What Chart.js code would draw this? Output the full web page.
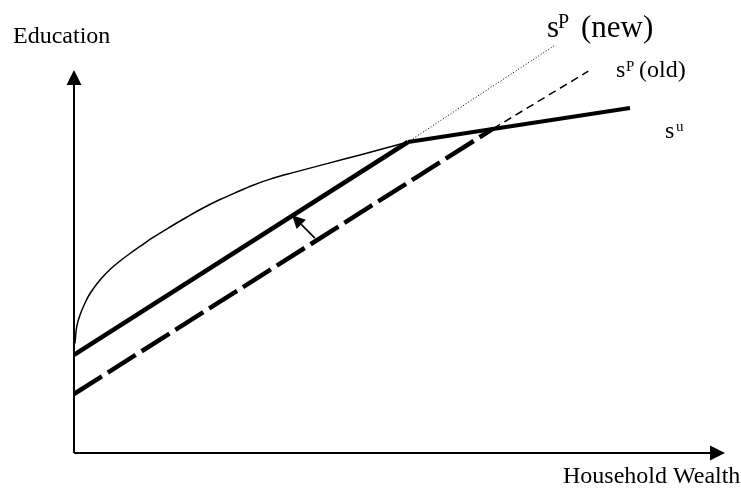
<!DOCTYPE html>
<html>
<head>
<meta charset="utf-8">
<script src="https://cdn.jsdelivr.net/npm/chart.js@4.4.1/dist/chart.umd.min.js"></script>
<style>
html,body{margin:0;padding:0;background:#fff;}
#wrap{width:741px;height:492px;}
</style>
</head>
<body>
<div id="wrap"><canvas id="c" width="741" height="492"></canvas></div>
<script>
// Axis labels
const xAxisLabel = "Household Wealth";
const yAxisLabel = "Education";

// Curves (Household Wealth 0-100, Education 0-100 along the drawn axes)
const suCurve = [
  {x:0.15,y:28.64},{x:0.41,y:32.90},{x:0.92,y:36.03},{x:1.69,y:39.16},{x:2.46,y:41.64},
  {x:3.99,y:45.17},{x:5.53,y:47.91},{x:7.07,y:50.13},{x:8.60,y:52.09},{x:10.14,y:53.92},
  {x:12.14,y:56.27},{x:14.75,y:59.01},{x:17.36,y:61.62},{x:19.82,y:63.97},{x:22.43,y:66.19},
  {x:25.04,y:68.15},{x:27.50,y:69.90},{x:30.11,y:71.50},{x:33.64,y:73.20},{x:38.86,y:75.55},
  {x:43.93,y:77.81},{x:51.31,y:81.20}
];
const suUpper = [{x:51.3,y:81.2},{x:85.4,y:90.1}];
const sPnew = [{x:0,y:25.6},{x:51.3,y:81.2}];
const sPnewExt = [{x:51.3,y:81.2},{x:73.9,y:106.5}];
const sPold = [{x:0,y:15.4},{x:64.4,y:84.7}];
const sPoldExt = [{x:64.4,y:84.7},{x:79.0,y:99.7}];
const shiftArrow = [{x:37.0,y:56.1},{x:33.5,y:62.1}];

const base = {showLine:true, pointRadius:0, fill:false, borderColor:'#000', clip:false, borderCapStyle:'butt'};

const overlay = {
  id:'overlay',
  afterDatasetsDraw(chart){
    const ctx = chart.ctx, xs = chart.scales.x, ys = chart.scales.y, ca = chart.chartArea;
    const ox = xs.getPixelForValue(0), oy = ys.getPixelForValue(0);
    ctx.save();
    ctx.strokeStyle='#000'; ctx.fillStyle='#000';
    // axes
    ctx.lineWidth=2;
    ctx.beginPath();
    ctx.moveTo(ox, oy); ctx.lineTo(ox, ca.top+14);
    ctx.moveTo(ox, oy); ctx.lineTo(ca.right-14, oy);
    ctx.stroke();
    ctx.beginPath();
    ctx.moveTo(ox, ca.top); ctx.lineTo(ox-7.5, ca.top+15); ctx.lineTo(ox+7.5, ca.top+15); ctx.closePath(); ctx.fill();
    ctx.beginPath();
    ctx.moveTo(ca.right, oy); ctx.lineTo(ca.right-15, oy-7.5); ctx.lineTo(ca.right-15, oy+7.5); ctx.closePath(); ctx.fill();
    // shift arrow
    const ax0 = xs.getPixelForValue(shiftArrow[0].x), ay0 = ys.getPixelForValue(shiftArrow[0].y);
    const ax1 = xs.getPixelForValue(shiftArrow[1].x), ay1 = ys.getPixelForValue(shiftArrow[1].y);
    const ang = Math.atan2(ay1-ay0, ax1-ax0);
    const hl = 13, hw = 6.5;
    const bx = ax1 - hl*Math.cos(ang), by = ay1 - hl*Math.sin(ang);
    ctx.lineWidth=1.6;
    ctx.beginPath(); ctx.moveTo(ax0,ay0); ctx.lineTo(bx,by); ctx.stroke();
    ctx.beginPath();
    ctx.moveTo(ax1,ay1);
    ctx.lineTo(bx + hw*Math.sin(ang), by - hw*Math.cos(ang));
    ctx.lineTo(bx - hw*Math.sin(ang), by + hw*Math.cos(ang));
    ctx.closePath(); ctx.fill();
    // texts
    ctx.textBaseline='alphabetic'; ctx.textAlign='left';
    ctx.font='24px "Liberation Serif", "Times New Roman", serif';
    ctx.fillText(yAxisLabel, 13, 43);
    ctx.fillText(xAxisLabel, 563, 483);
    // s^P (new)
    ctx.font='31px "Liberation Serif", serif';
    ctx.fillText('s', 547, 37);
    ctx.font='20px "Liberation Serif", serif';
    ctx.fillText('P', 558, 28);
    ctx.font='31px "Liberation Serif", serif';
    ctx.fillText('(new)', 581, 37);
    // s^P(old)
    ctx.font='24px "Liberation Serif", serif';
    ctx.fillText('s', 616, 77);
    ctx.font='15px "Liberation Serif", serif';
    ctx.fillText('P', 626, 71);
    ctx.font='24px "Liberation Serif", serif';
    ctx.fillText('(old)', 639, 77);
    // s^u
    ctx.font='24px "Liberation Serif", serif';
    ctx.fillText('s', 665, 138);
    ctx.font='15px "Liberation Serif", serif';
    ctx.fillText('u', 676, 131);
    ctx.restore();
  }
};

new Chart(document.getElementById('c'), {
  type:'scatter',
  data:{datasets:[
    Object.assign({}, base, {data:suCurve, borderWidth:1.5, tension:0.35}),
    Object.assign({}, base, {data:suUpper, borderWidth:4}),
    Object.assign({}, base, {data:sPnew, borderWidth:4.5}),
    Object.assign({}, base, {data:sPnewExt, borderWidth:1, borderDash:[1,2]}),
    Object.assign({}, base, {data:sPold, borderWidth:4.5, borderDash:[33,7]}),
    Object.assign({}, base, {data:sPoldExt, borderWidth:1.5, borderDash:[8,5]})
  ]},
  options:{
    responsive:false, animation:false, devicePixelRatio:1,
    layout:{padding:{left:74, right:16, top:70, bottom:39}},
    scales:{
      x:{type:'linear', min:0, max:100, display:false},
      y:{type:'linear', min:0, max:100, display:false}
    },
    plugins:{legend:{display:false}, tooltip:{enabled:false}}
  },
  plugins:[overlay]
});
</script>
</body>
</html>
